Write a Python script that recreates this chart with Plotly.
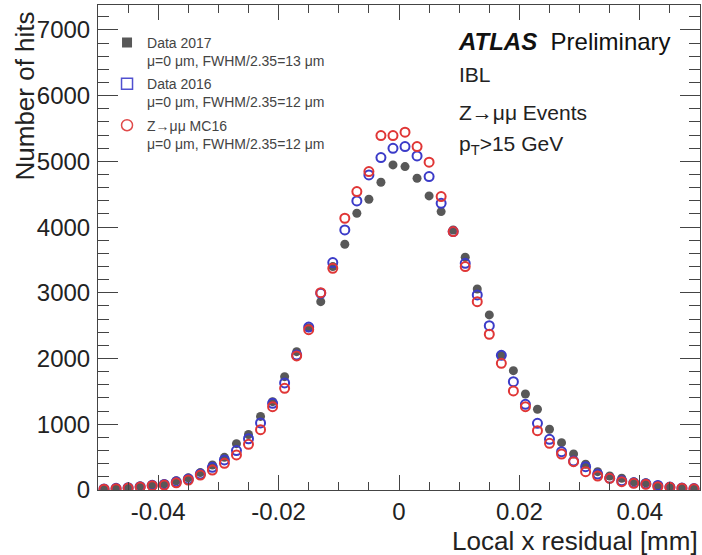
import plotly.graph_objects as go

# Bin centres of the local x residual histogram [mm]
bin_centers = [-0.049, -0.047, -0.045, -0.043, -0.041, -0.039, -0.037, -0.035, -0.033, -0.031,
               -0.029, -0.027, -0.025, -0.023, -0.021, -0.019, -0.017, -0.015, -0.013, -0.011,
               -0.009, -0.007, -0.005, -0.003, -0.001, 0.001, 0.003, 0.005, 0.007, 0.009,
               0.011, 0.013, 0.015, 0.017, 0.019, 0.021, 0.023, 0.025, 0.027, 0.029,
               0.031, 0.033, 0.035, 0.037, 0.039, 0.041, 0.043, 0.045, 0.047, 0.049]

data2017 = [20, 30, 40, 60, 80, 95, 140, 185, 265, 380,
            497, 705, 845, 1120, 1344, 1725, 2105, 2470, 2866, 3399,
            3740, 4211, 4424, 4683, 4947, 4921, 4744, 4475, 4236, 3957,
            3542, 3059, 2664, 2055, 1816, 1461, 1228, 924, 720, 548,
            391, 279, 213, 178, 126, 111, 76, 50, 35, 25]

data2016 = [15, 25, 35, 50, 72, 85, 125, 168, 245, 345,
            457, 600, 780, 1020, 1319, 1630, 2055, 2480, 2994, 3460,
            3957, 4399, 4795, 5058, 5200, 5225, 5084, 4769, 4363, 3932,
            3450, 2968, 2500, 2050, 1648, 1304, 1015, 772, 583, 440,
            355, 243, 180, 140, 110, 95, 70, 45, 30, 22]

mc16 = [12, 20, 30, 45, 65, 75, 110, 152, 228, 304,
        406, 533, 695, 918, 1268, 1548, 2040, 2440, 3003, 3374,
        4135, 4541, 4845, 5393, 5393, 5444, 5225, 4988, 4465, 3932,
        3399, 2866, 2370, 1928, 1507, 1268, 903, 711, 548, 431,
        279, 213, 178, 126, 102, 87, 50, 40, 28, 18]

x_tickvals = [-0.04, -0.02, 0, 0.02, 0.04]
x_ticktext = ["-0.04", "-0.02", "0", "0.02", "0.04"]
y_tickvals = [0, 1000, 2000, 3000, 4000, 5000, 6000, 7000]
y_ticktext = ["0", "1000", "2000", "3000", "4000", "5000", "6000", "7000"]

legend_names = ["Data 2017<br>\u03bc=0 \u03bcm, FWHM/2.35=13 \u03bcm",
                "Data 2016<br>\u03bc=0 \u03bcm, FWHM/2.35=12 \u03bcm",
                "Z\u2192\u03bc\u03bc MC16<br>\u03bc=0 \u03bcm, FWHM/2.35=12 \u03bcm"]

GRAY = "#585858"
BLUE = "#3b3bc8"
RED = "#e03636"
FONT = "Liberation Sans, Arial, sans-serif"

fig = go.Figure()

fig.add_trace(go.Scatter(x=bin_centers, y=data2017, mode="markers", showlegend=False,
                         marker=dict(symbol="circle", size=9, color=GRAY)))
fig.add_trace(go.Scatter(x=bin_centers, y=data2016, mode="markers", showlegend=False,
                         marker=dict(symbol="circle-open", size=9, color=BLUE,
                                     line=dict(width=2, color=BLUE))))
fig.add_trace(go.Scatter(x=bin_centers, y=mc16, mode="markers", showlegend=False,
                         marker=dict(symbol="circle-open", size=9, color=RED,
                                     line=dict(width=2, color=RED))))

# legend entries
leg_styles = [dict(symbol="square", size=10, color=GRAY),
              dict(symbol="square-open", size=11, color="#5050d0", line=dict(width=1.5, color="#5050d0")),
              dict(symbol="circle-open", size=11, color="#e04a4a", line=dict(width=1.5, color="#e04a4a"))]
for i, (nm, st) in enumerate(zip(legend_names, leg_styles)):
    fig.add_trace(go.Scatter(x=[None], y=[None], mode="markers", name=nm, marker=st,
                             legendgroup=f"g{i}", showlegend=True))

axis_common = dict(showline=True, linecolor="#444", linewidth=1, mirror="ticks",
                   ticks="inside", tickcolor="#444", showgrid=False, zeroline=False,
                   tickfont=dict(family=FONT, size=24, color="#222"))

fig.update_xaxes(range=[-0.05, 0.05], tickmode="array", tickvals=x_tickvals, ticktext=x_ticktext,
                 ticklen=15, ticklabelstandoff=0,
                 minor=dict(ticks="inside", dtick=0.005, tick0=0, ticklen=8, tickcolor="#444"),
                 **axis_common)
fig.update_yaxes(range=[0, 7380], tickmode="array", tickvals=y_tickvals, ticktext=y_ticktext,
                 ticklen=20, ticklabelstandoff=2,
                 minor=dict(ticks="inside", dtick=200, tick0=0, ticklen=11, tickcolor="#444"),
                 **axis_common)

ann = []
ann.append(dict(text="<b><i>ATLAS</i></b>  Preliminary", x=0.594, y=0.924, xref="paper", yref="paper",
                xanchor="left", yanchor="middle", showarrow=False,
                font=dict(family=FONT, size=24, color="#111")))
for txt, yy in [("IBL", 0.856), ("Z\u2192\u03bc\u03bc Events", 0.779), ("p<sub>T</sub>&gt;15 GeV", 0.711)]:
    ann.append(dict(text=txt, x=0.596, y=yy, xref="paper", yref="paper", xanchor="left",
                    yanchor="middle", showarrow=False, font=dict(family=FONT, size=21, color="#222")))
ann.append(dict(text="Local x residual [mm]", x=1.0, y=-0.105, xref="paper", yref="paper",
                xanchor="right", yanchor="middle", showarrow=False,
                font=dict(family=FONT, size=26, color="#222")))
ann.append(dict(text="Number of hits", x=-0.121, y=0.99, xref="paper", yref="paper",
                xanchor="center", yanchor="top", textangle=-90, showarrow=False,
                font=dict(family=FONT, size=26, color="#222")))

fig.update_layout(
    width=702, height=555,
    margin=dict(l=98, r=2, t=5, b=65),
    plot_bgcolor="white", paper_bgcolor="white",
    annotations=ann,
    legend=dict(x=0.015, y=0.955, xanchor="left", yanchor="top", bgcolor="rgba(0,0,0,0)",
                font=dict(family=FONT, size=14, color="#444"), valign="top",
                traceorder="grouped", tracegroupgap=2, itemwidth=30),
)

fig.write_html("out.html")
